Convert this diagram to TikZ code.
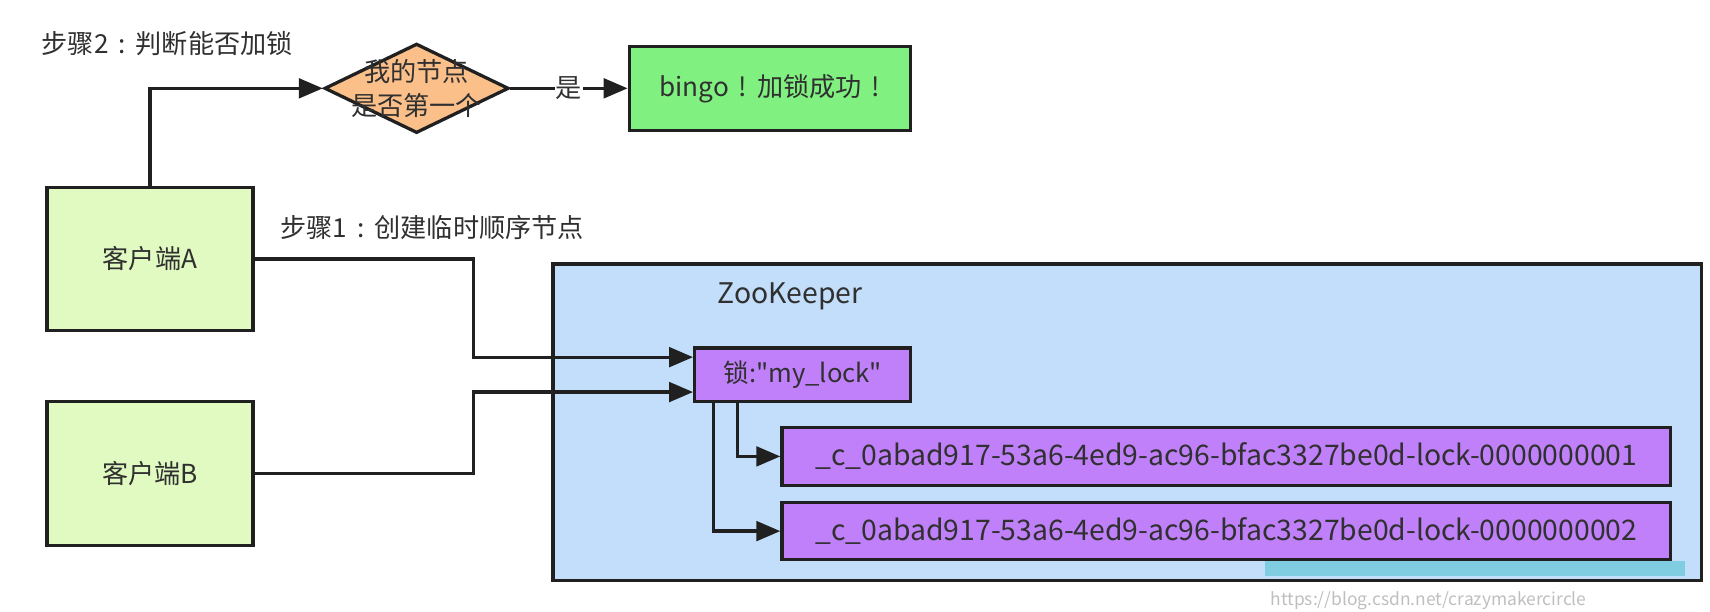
\documentclass[tikz,border=0pt]{standalone}
\usepackage{fontspec}
\setmainfont{Noto Sans CJK SC}
\newfontfamily\plainfont{Noto Sans CJK SC}
\usetikzlibrary{arrows.meta,shapes.geometric}
\definecolor{linec}{HTML}{202020}
\definecolor{txtc}{HTML}{303030}
\definecolor{clientfill}{HTML}{E0FAC2}
\definecolor{okfill}{HTML}{80F080}
\definecolor{diafill}{HTML}{FBC08A}
\definecolor{zkfill}{HTML}{C2DEFA}
\definecolor{lockfill}{HTML}{C080FA}
\definecolor{wmbar}{HTML}{80CCE0}
\begin{document}
\begin{tikzpicture}[x=1pt,y=-1pt,
  box/.style={draw=linec, line width=3pt, inner sep=0pt},
  conn/.style={draw=linec, line width=3pt, -{Triangle[length=22pt,width=18pt]}},
  lbl/.style={font=\fontsize{24}{31}\selectfont, text=txtc},
  lat/.style={font=\plainfont\fontsize{26}{31}\selectfont, text=txtc},
  lockt/.style={font=\plainfont\fontsize{23.5}{28}\selectfont, text=txtc}]
\useasboundingbox[fill=white] (0,0) rectangle (1568,561);
% ZooKeeper container
\node[box, fill=zkfill, minimum width=1053pt, minimum height=290pt] (ZK) at (1033.5,387) {};
\node[lat, anchor=west, inner sep=0pt] (ZKt) at (658,272) {ZooKeeper};
% clients
\node[box, fill=clientfill, minimum width=189pt, minimum height=131pt, lbl] (A) at (137.5,237.5) {客户端A};
\node[box, fill=clientfill, minimum width=189pt, minimum height=132pt, lbl] (B) at (137.5,434) {客户端B};
% decision
\node[box, diamond, fill=diafill, minimum width=169pt, minimum height=82pt] (D) at (382,81) {};
\node[lbl, align=center, inner sep=0pt] (Dt) at (D.center) {我的节点\\是否第一个};
\node[box, fill=okfill, minimum width=258pt, minimum height=77pt, lbl] (G) at (706,81) {bingo\hspace{0.38em}!\hspace{0.38em}加锁成功\hspace{0.38em}!};
% step labels
\node[lbl, anchor=west, inner sep=0pt] (S2) at (38,40) {步骤2\hspace{0.38em}:\hspace{0.38em}判断能否加锁};
\node[lbl, anchor=west, inner sep=0pt] (S1) at (257,209) {步骤1\hspace{0.38em}:\hspace{0.38em}创建临时顺序节点};
% lock and children
\node[box, fill=lockfill, minimum width=198pt, minimum height=49pt, lockt] (L) at (736,343.5) {锁:"my\_lock"};
\node[box, fill=lockfill, minimum width=815pt, minimum height=53pt, lat] (N1) at (1124.5,418.5) {\_c\_0abad917-53a6-4ed9-ac96-bfac3327be0d-lock-0000000001};
\node[box, fill=lockfill, minimum width=815pt, minimum height=52pt, lat] (N2) at (1124.5,487) {\_c\_0abad917-53a6-4ed9-ac96-bfac3327be0d-lock-0000000002};
% connectors
\draw[conn] (A.north) |- (D.west);
\draw[conn] (D.east) -- node[lbl, fill=white, inner sep=1pt] (yes) {是} (G.west);
\draw[conn] (A.east) -- ++(201,0) |- ([yshift=16pt]L.west);
\draw[conn] (B.east) -- ++(201,0) |- ([yshift=-16pt]L.west);
\draw[conn] ([xshift=-60pt]L.south) |- (N1.west);
\draw[conn] ([xshift=-82pt]L.south) |- (N2.west);
% watermark
\fill[wmbar] (1160,514) rectangle (1545,528);
\node[anchor=west, text=black!25, font=\fontsize{16}{18}\selectfont, inner sep=0pt] (wm) at (1165,551) {https://blog.csdn.net/crazymakercircle};
\end{tikzpicture}
\end{document}
